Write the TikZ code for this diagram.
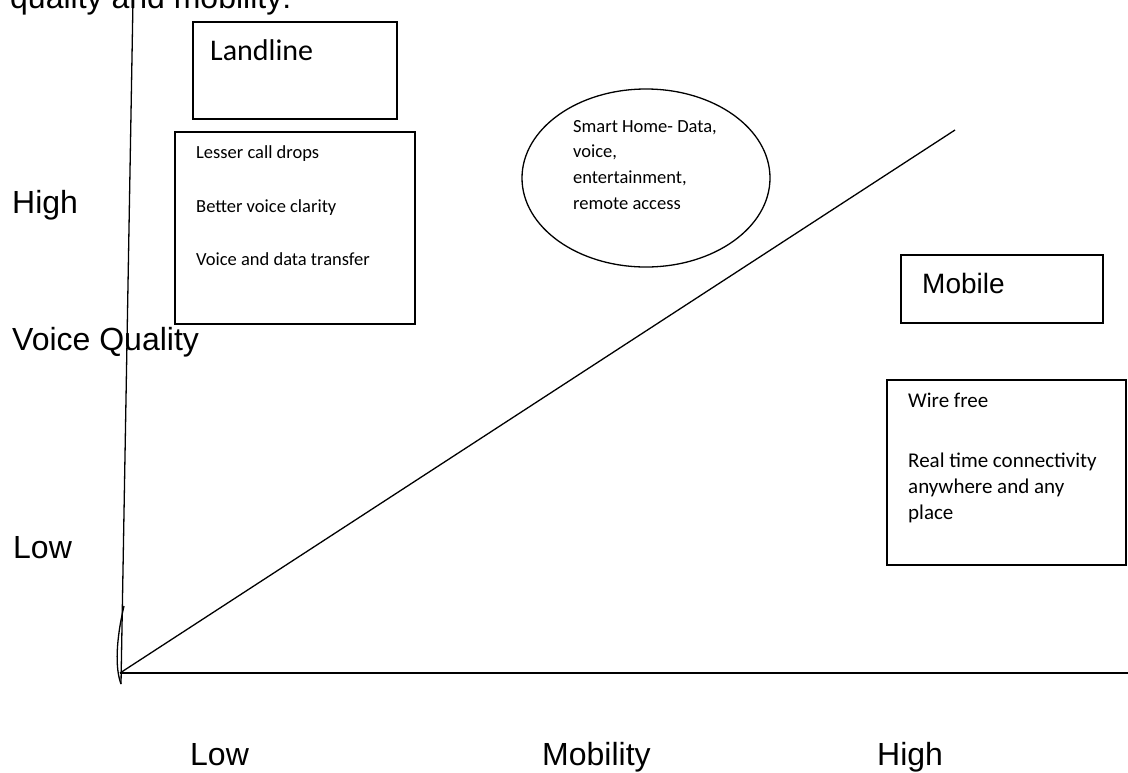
\documentclass[tikz,border=0pt]{standalone}
\usepackage{fontspec}
\setmainfont{Liberation Sans}
\newfontfamily\carlito{Carlito}
\usetikzlibrary{shapes.geometric}

\begin{document}
\begin{tikzpicture}[
  x=1pt,y=-1pt,
  axis/.style={line width=1.3pt},
  box/.style={draw,line width=1.3pt,inner sep=0pt},
  big/.style={font=\fontsize{32}{38}\selectfont,anchor=base west,inner sep=0pt},
  head/.style={font=\fontsize{28}{34}\selectfont,anchor=base west,inner sep=0pt},
  note/.style={font=\carlito\fontsize{18.5}{22}\selectfont,anchor=base west,inner sep=0pt},
  wnote/.style={font=\carlito\fontsize{21}{25}\selectfont,anchor=base west,inner sep=0pt},
]
\useasboundingbox (0,0) rectangle (1128,772);

% ----- axes -----
\coordinate (O)    at (120,673);
\coordinate (ytop) at (133,0);
\coordinate (ybot) at (121,684);
\coordinate (xend) at (1128,673);
\coordinate (dend) at (955,130);
\draw[axis] (ybot) -- (ytop);
\draw[axis] (O) -- (xend);
\draw[axis] (O) -- (dend);
\draw[axis] (124,606) .. controls (116,640) and (115,668) .. (ybot);

% ----- axis labels -----
\node[big] (title) at (10,8)    {quality and mobility:};
\node[big] (vhigh) at (12,213)  {High};
\node[big] (vq)    at (12,350)  {Voice Quality};
\node[big] (vlow)  at (13,558)  {Low};
\node[big] (mlow)  at (190,765) {Low};
\node[big] (mob)   at (542,765) {Mobility};
\node[big] (mhigh) at (877,765) {High};

% ----- landline -----
\node[box,minimum width=204pt,minimum height=97pt] (land) at (295,70.5) {};
\node[head,font=\carlito\fontsize{30}{36}\selectfont] (landtxt) at (210,60) {Landline};
\node[box,minimum width=240pt,minimum height=192pt] (landbox) at (295,228) {};
\node[note] (l1) at (196,158) {Lesser call drops};
\node[note] (l2) at (196,212) {Better voice clarity};
\node[note] (l3) at (196,265) {Voice and data transfer};

% ----- smart home -----
\node[box,ellipse,minimum width=248pt,minimum height=178pt] (smart) at (646,178) {};
\node[note] (s1) at (573,132) {Smart Home- Data,};
\node[note] (s2) at (573,157) {voice,};
\node[note] (s3) at (573,183) {entertainment,};
\node[note] (s4) at (573,209) {remote access};

% ----- mobile -----
\node[box,minimum width=202pt,minimum height=68pt] (mobile) at (1002,289) {};
\node[head] (mobtxt) at (922,293) {Mobile};
\node[box,minimum width=239pt,minimum height=185pt] (mobbox) at (1006.5,472.5) {};
\node[wnote] (m1) at (908,407) {Wire free};
\node[wnote] (m2) at (908,467) {Real time connectivity};
\node[wnote] (m3) at (908,493) {anywhere and any};
\node[wnote] (m4) at (908,519) {place};

\end{tikzpicture}
\end{document}
